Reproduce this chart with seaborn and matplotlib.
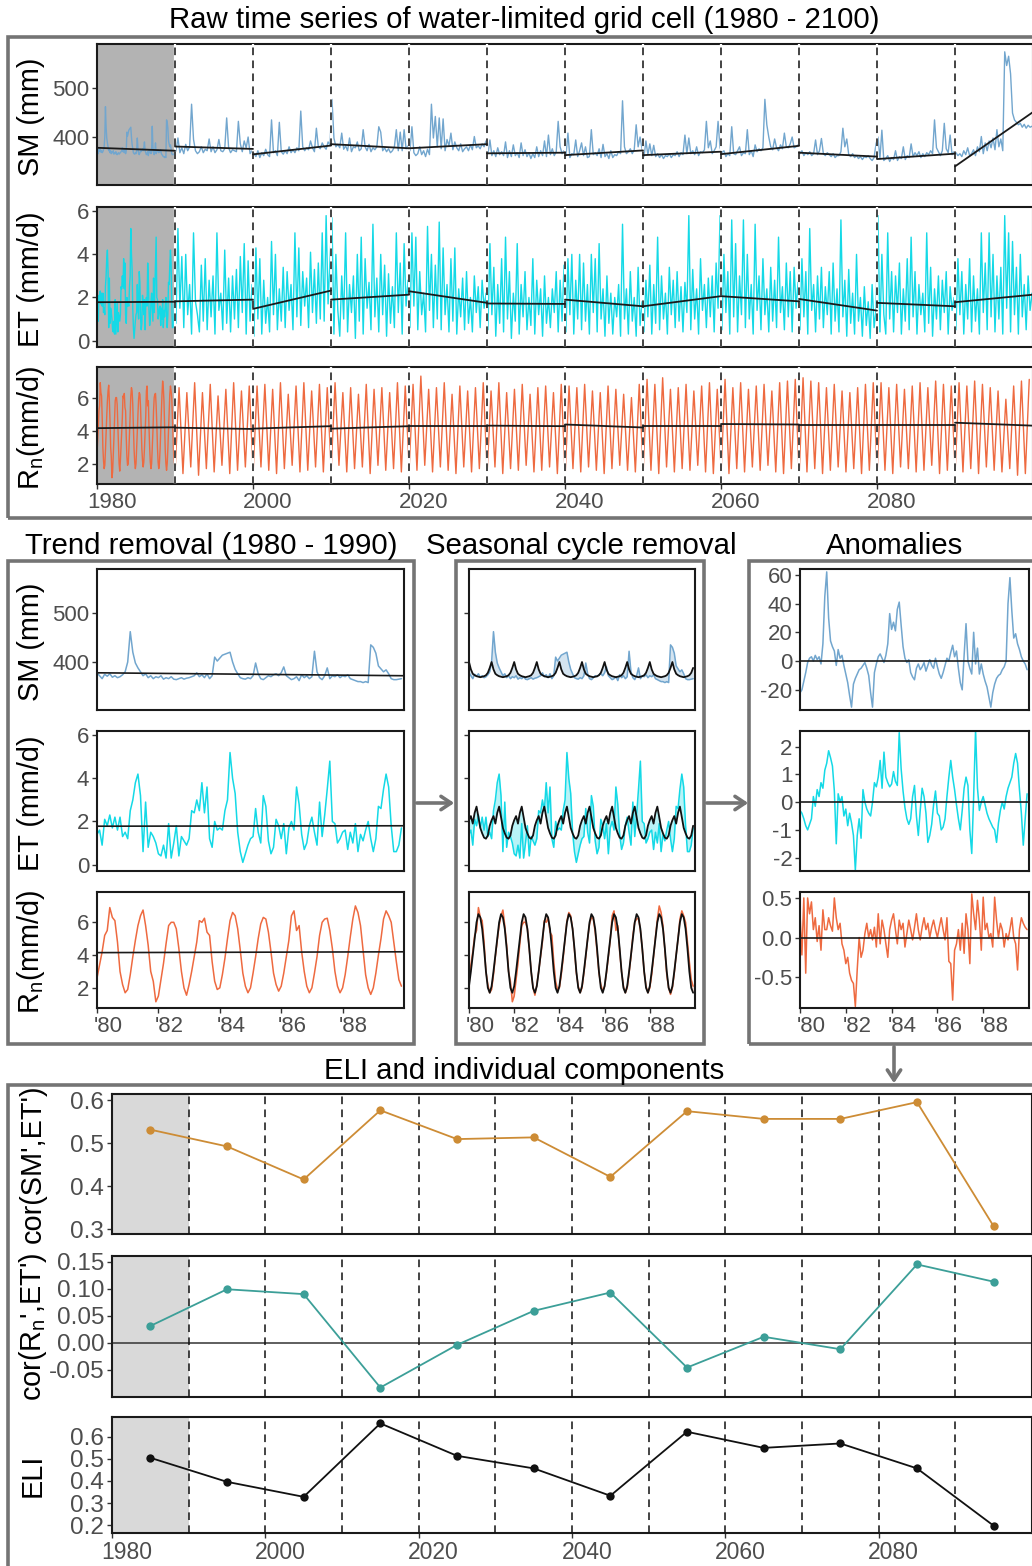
import numpy as np
import pandas as pd
import matplotlib
matplotlib.use("Agg")
import matplotlib.pyplot as plt
from matplotlib.patches import Rectangle, FancyArrowPatch
from matplotlib.transforms import ScaledTranslation
import seaborn as sns

sns.set_style("white")
plt.rcParams['font.family'] = ['Liberation Sans', 'DejaVu Sans']
plt.rcParams['mathtext.default'] = 'regular'
plt.rcParams['axes.unicode_minus'] = False

# ---------------- data ----------------
# 1980-1989, monthly (Jan 1980 .. Dec 1989)
sm_80s = [378, 372, 366, 375, 371, 376, 369, 372, 368, 370, 374, 380,
          400, 462, 420, 398, 388, 380, 372, 376, 368, 372, 366, 370,
          368, 372, 365, 368, 366, 370, 365, 364, 366, 368, 365, 367,
          368, 370, 372, 378, 370, 374, 368, 376, 366, 372, 410, 402,
          408, 414, 416, 418, 420, 400, 385, 376, 368, 366, 365, 368,
          366, 372, 398, 376, 366, 364, 368, 372, 370, 374, 376, 372,
          378, 390, 372, 368, 364, 366, 370, 362, 374, 368, 372, 366,
          370, 422, 380, 368, 364, 372, 388, 366, 372, 370, 374, 368,
          372, 370, 374, 366, 364, 362, 360, 360, 358, 360, 358, 435,
          430, 418, 392, 386, 380, 384, 376, 366, 364, 364, 365, 366]
et_80s = [1.4, 1.6, 0.9, 2.1, 1.8, 2.3, 1.7, 2.2, 1.6, 2.2, 1.3, 1.5,
          1.2, 2.5, 3.0, 3.8, 4.2, 3.2, 0.6, 2.9, 0.8, 1.5, 1.3, 1.0,
          0.5, 0.4, 0.9, 0.3, 1.9, 0.3, 1.0, 1.8, 0.4, 1.3, 1.1, 0.9,
          1.2, 2.5, 2.4, 3.0, 2.5, 3.8, 2.4, 3.6, 1.2, 0.8, 2.0, 1.6,
          1.7, 1.6, 2.5, 3.0, 5.2, 4.0, 3.3, 1.5, 0.6, 0.1, 0.5, 0.9,
          1.2, 1.3, 2.6, 1.5, 1.0, 3.2, 2.7, 1.1, 0.5, 0.8, 2.1, 1.8,
          1.2, 1.9, 0.5, 1.7, 2.0, 1.6, 3.6, 2.8, 1.4, 0.7, 1.0, 1.8,
          2.2, 1.5, 0.9, 2.9, 1.3, 2.3, 3.5, 4.8, 2.0, 1.9, 1.0, 1.2,
          1.5, 1.6, 0.7, 1.5, 1.0, 1.9, 0.6, 1.4, 1.1, 1.6, 2.0, 1.2,
          0.6, 1.2, 2.7, 2.6, 3.5, 4.2, 3.6, 1.8, 0.6, 0.6, 0.9, 1.7]
rn_80s = [2.6, 3.4, 4.2, 5.2, 5.5, 6.9, 6.3, 6.1, 4.8, 3.0, 2.2, 1.7,
          1.9, 2.8, 3.9, 4.9, 5.8, 6.4, 6.75, 5.8, 4.6, 3.0, 2.4, 1.15,
          1.5, 2.5, 3.5, 4.7, 5.8, 6.0, 6.0, 5.6, 4.4, 3.0, 2.0, 1.55,
          2.2, 3.0, 3.9, 4.8, 6.1, 6.0, 6.25, 5.4, 5.2, 3.6, 2.4, 1.9,
          2.0, 2.8, 3.8, 5.0, 6.1, 6.6, 6.4, 5.6, 4.3, 2.9, 2.1, 1.7,
          2.0, 2.9, 3.9, 5.0, 5.9, 6.3, 6.2, 5.4, 4.2, 2.9, 2.2, 1.8,
          2.1, 2.9, 3.9, 4.9, 6.4, 6.7, 5.5, 5.8, 4.2, 3.0, 2.1, 1.7,
          2.0, 2.9, 3.9, 5.2, 6.0, 6.2, 6.25, 5.5, 4.4, 3.0, 2.1, 1.7,
          2.0, 2.8, 3.9, 5.1, 6.2, 7.0, 6.6, 5.8, 4.3, 2.8, 2.0, 1.6,
          2.0, 2.9, 4.0, 5.0, 6.2, 6.7, 6.4, 6.0, 4.8, 3.6, 2.5, 2.1]

# mean seasonal cycle of the 1980s (Jan .. Dec)
sm_clim = [400, 385, 376, 373, 371, 370, 369, 370, 371, 373, 378, 388]
et_clim = [2.06, 2.25, 1.9, 2.4, 2.69, 2.2, 1.7, 1.45, 1.25, 1.2, 1.35, 1.8]
rn_clim = [2.1, 3.0, 4.0, 5.0, 6.0, 6.5, 6.3, 5.6, 4.4, 3.0, 2.0, 1.7]

# anomalies 1980-1989, monthly
sm_anom = [-22, -20, -14, -8, -1, 2, 3, 0, 4, 1, 3, -2,
           12, 45, 62, 30, 14, 10, 7, -3, 8, 2, 4, -3,
           -9, -15, -24, -32, -16, -12, -9, -6, -5, -3, -1, -5,
           -10, -22, -32, -8, -2, 3, 5, 2, -1, 4, 12, 33,
           22, 27, 21, 36, 41, 25, 10, 2, -1, 1, -8, -11,
           -13, -5, -2, -6, -4, -1, -7, -3, 1, -3, -5, 2,
           -4, -9, -12, -8, -3, 2, 0, 6, 11, 3, 7, -5,
           -15, -20, 4, 26, 0, -5, -9, 20, -2, 9, -9, -2,
           -9, -14, -18, -25, -32, -22, -16, -12, -10, -9, -6, -4,
           0, 40, 58, 35, 16, 19, 12, 8, 3, 0, -2, -6]
et_anom = [-0.3, -0.4, -0.6, -0.85, -1.0, -0.8, -0.6, 0.2, -0.15, 0.45, 0.2, 0.7,
           0.5, 1.15, 1.4, 1.85, 1.6, 1.3, 0.4, -1.5, 0.3, 0.0, 0.2, -0.5,
           -0.25, -0.85, -0.4, -0.75, -1.2, -2.45, -1.2, -0.6, -1.3, 0.45, 0.0, -0.25,
           -0.4, -0.5, 0.0, 0.7, 0.55, 0.9, 1.5, 0.5, 1.8, 0.9, 0.7, 0.55,
           0.65, 1.1, 0.75, 0.6, 2.5, 1.2, 0.4, -0.2, -0.6, -0.8, -0.6, 0.2,
           0.6, -0.5, -1.2, -0.3, 0.5, 0.2, -0.4, -1.45, -1.2, -0.8, -0.1, 0.4,
           -0.4, -0.5, -1.0, -0.9, -0.6, 0.2, 0.9, 1.5, 0.9, 0.45, -0.1, -0.6,
           -1.0, -0.3, 0.5, 0.9, 0.6, -1.0, -1.85, 0.2, 2.6, 0.5, -0.3, 0.0,
           0.2, -0.1, -0.4, -0.6, -0.75, -0.9, -1.0, -1.45, -0.75, -0.3, 0.0, -0.25,
           0.2, 0.5, 0.7, 0.9, 1.4, 1.75, 1.4, 0.45, -0.4, -1.55, -0.6, 0.3]
rn_anom = [0.3, -0.22, 0.5, -0.45, 0.5, 0.3, 0.45, 0.1, 0.25, -0.05, 0.15, -0.16,
           0.35, 0.1, 0.1, 0.25, 0.15, 0.08, 0.5, 0.25, 0.1, 0.18, -0.08, -0.16,
           -0.33, -0.25, -0.45, -0.54, -0.58, -0.87, -0.4, 0.0, -0.25, -0.16, 0.05, 0.18,
           0.0, 0.1, -0.03, 0.13, -0.12, 0.3, -0.08, 0.22, 0.1, -0.08, -0.25, 0.1,
           0.22, 0.3, 0.1, -0.08, 0.22, 0.1, 0.18, -0.12, 0.05, 0.22, 0.1, -0.03,
           0.13, 0.3, 0.1, -0.03, 0.13, 0.25, 0.1, 0.18, 0.0, 0.13, 0.22, 0.1,
           0.0, 0.13, 0.25, 0.1, -0.03, 0.25, -0.3, -0.33, -0.79, -0.16, -0.08, 0.1,
           -0.16, 0.18, -0.2, 0.3, 0.1, -0.33, 0.55, 0.3, 0.1, 0.47, 0.22, -0.16,
           0.51, 0.1, 0.18, 0.0, 0.05, -0.12, 0.51, 0.22, 0.0, 0.18, 0.1, -0.12,
           0.05, -0.03, 0.1, 0.25, 0.0, -0.08, -0.41, 0.1, 0.25, 0.18, 0.13, 0.1]

# 1990-2099: soil moisture and ET quarterly, one line per decade
sm_q = [372, 398, 368, 378, 366, 385, 372, 380, 467, 395, 372, 366, 370, 380, 368, 375, 372, 396, 370, 380, 368, 374, 395, 372, 370, 376, 439, 378, 368, 374, 372, 370, 432, 386, 370, 392, 378, 400, 366, 372,
        366, 360, 372, 358, 368, 362, 375, 364, 360, 435, 368, 372, 362, 430, 370, 365, 372, 366, 380, 368, 374, 368, 378, 372, 453, 380, 372, 378, 374, 392, 378, 370, 418, 380, 376, 388, 380, 375, 390, 384,
        477, 398, 380, 385, 378, 408, 375, 382, 372, 398, 370, 380, 378, 390, 372, 376, 415, 380, 372, 385, 370, 378, 374, 380, 421, 410, 372, 378, 370, 376, 368, 372, 380, 415, 372, 410, 372, 415, 376, 382,
        372, 421, 368, 362, 366, 380, 364, 372, 360, 375, 364, 467, 398, 442, 380, 439, 376, 437, 372, 395, 382, 408, 374, 390, 378, 372, 386, 370, 376, 380, 372, 384, 374, 401, 378, 382, 376, 386, 380, 392,
        366, 394, 362, 372, 360, 378, 364, 370, 362, 390, 358, 372, 360, 384, 362, 368, 358, 388, 362, 374, 360, 368, 356, 366, 358, 380, 360, 372, 362, 392, 360, 404, 364, 376, 362, 370, 432, 380, 366, 372,
        362, 408, 358, 366, 364, 394, 360, 372, 388, 362, 380, 358, 360, 415, 364, 368, 362, 376, 358, 385, 360, 366, 356, 372, 358, 364, 362, 370, 366, 474, 380, 366, 370, 376, 366, 374, 425, 380, 400, 376,
        360, 392, 364, 386, 362, 383, 360, 366, 358, 364, 356, 362, 360, 366, 358, 364, 362, 370, 360, 368, 364, 404, 366, 398, 366, 372, 364, 380, 362, 370, 368, 374, 432, 378, 392, 366, 372, 380, 432, 378,
        368, 372, 360, 366, 362, 421, 366, 364, 372, 380, 362, 368, 366, 415, 364, 372, 360, 384, 370, 376, 372, 378, 477, 425, 400, 380, 374, 396, 378, 372, 384, 376, 408, 380, 378, 386, 400, 378, 380, 384,
        366, 372, 362, 368, 364, 370, 362, 366, 394, 364, 372, 397, 366, 362, 368, 364, 360, 366, 358, 362, 362, 370, 418, 380, 396, 364, 360, 366, 358, 362, 356, 360, 354, 360, 358, 362, 356, 352, 358, 386,
        400, 356, 414, 352, 356, 362, 350, 358, 354, 372, 352, 360, 356, 380, 354, 362, 358, 386, 360, 368, 362, 370, 358, 366, 360, 368, 364, 372, 366, 435, 378, 370, 362, 372, 428, 376, 368, 404, 364, 370,
        368, 362, 366, 360, 372, 364, 378, 362, 366, 374, 362, 380, 370, 401, 366, 388, 372, 392, 378, 398, 374, 415, 380, 396, 372, 574, 546, 565, 529, 449, 435, 430, 425, 428, 420, 426, 418, 424, 420, 422]
et_q = [0.8, 5.2, 1.5, 3.9, 0.6, 4.0, 1.2, 2.6, 0.3, 5.0, 1.8, 1.2, 0.4, 3.5, 0.9, 3.8, 0.5, 2.8, 1.1, 3.0, 0.3, 5.0, 1.4, 2.2, 0.5, 4.2, 0.8, 2.9, 0.4, 3.0, 1.0, 3.3, 0.6, 3.9, 1.3, 4.5, 0.3, 3.7, 0.9, 2.6,
        0.2, 4.3, 1.0, 3.8, 0.3, 2.8, 0.8, 2.0, 0.4, 4.6, 1.2, 4.0, 0.5, 2.4, 0.9, 3.4, 0.6, 3.2, 1.4, 2.6, 0.5, 5.0, 1.1, 4.3, 0.7, 3.2, 1.6, 2.9, 0.6, 4.1, 1.3, 3.3, 0.8, 3.6, 1.0, 5.0, 0.9, 5.8, 1.7, 3.8,
        5.7, 0.3, 4.0, 1.4, 0.2, 3.0, 1.0, 5.0, 0.4, 2.6, 1.3, 3.0, 0.1, 4.0, 0.9, 4.8, 0.3, 3.8, 1.5, 2.7, 0.5, 5.4, 1.1, 2.9, 0.4, 4.0, 1.2, 3.5, 0.2, 3.1, 0.8, 2.5, 0.6, 5.0, 1.3, 3.6, 0.3, 4.5, 1.6, 2.8,
        0.6, 5.0, 1.6, 4.8, 0.5, 3.2, 1.2, 2.2, 0.4, 5.3, 1.4, 4.0, 0.6, 3.5, 1.0, 5.5, 0.5, 4.3, 1.2, 2.6, 0.4, 3.8, 0.9, 4.3, 0.3, 2.4, 1.1, 2.9, 0.5, 3.2, 0.8, 2.0, 0.4, 3.0, 1.3, 2.5, 0.6, 2.8, 1.5, 2.2,
        0.5, 4.5, 1.2, 3.4, 0.2, 2.6, 0.8, 3.8, 0.4, 4.8, 1.0, 3.2, 0.1, 2.2, 0.9, 4.5, 0.3, 2.6, 1.1, 3.2, 0.5, 2.0, 0.7, 3.8, 0.3, 2.8, 1.2, 2.4, 0.2, 3.0, 0.8, 2.0, 0.6, 2.4, 1.3, 3.2, 0.4, 2.8, 0.9, 3.5,
        0.4, 3.8, 1.2, 4.0, 0.3, 2.8, 1.0, 4.0, 0.5, 3.6, 0.9, 2.6, 0.3, 4.0, 1.3, 3.8, 0.4, 4.5, 1.0, 2.4, 0.2, 3.0, 0.8, 2.2, 0.3, 2.0, 1.1, 2.6, 0.2, 5.4, 1.0, 2.4, 0.3, 3.2, 0.9, 2.0, 0.2, 3.4, 0.7, 1.8,
        0.4, 2.8, 1.1, 3.5, 0.3, 2.6, 0.8, 4.8, 0.5, 3.0, 1.0, 2.2, 0.3, 3.4, 1.2, 2.8, 0.6, 3.2, 0.9, 2.5, 0.4, 2.7, 1.3, 5.8, 0.5, 3.3, 1.0, 2.4, 0.3, 3.8, 1.4, 2.6, 0.6, 2.9, 1.1, 3.0, 0.4, 3.6, 1.5, 5.8,
        0.5, 4.0, 1.3, 3.2, 0.3, 5.6, 1.1, 4.5, 0.4, 3.0, 1.2, 5.6, 0.6, 4.0, 1.0, 2.6, 0.3, 5.4, 1.4, 3.0, 0.5, 3.8, 1.2, 2.4, 0.4, 3.4, 0.9, 2.8, 0.6, 4.8, 1.3, 2.5, 0.5, 3.6, 1.1, 3.2, 0.4, 3.4, 1.5, 2.7,
        0.5, 3.8, 1.1, 3.2, 0.3, 5.2, 1.4, 2.6, 0.4, 3.0, 1.0, 3.4, 0.6, 2.5, 1.2, 3.2, 0.3, 3.6, 0.9, 2.4, 0.4, 5.6, 1.1, 2.8, 0.2, 3.3, 0.8, 2.2, 0.3, 4.0, 0.9, 2.0, 0.2, 2.5, 0.7, 1.8, 0.1, 2.6, 0.6, 1.4,
        5.8, 0.4, 4.0, 1.2, 0.3, 5.0, 1.0, 3.2, 0.4, 3.0, 1.3, 3.6, 0.3, 2.4, 0.9, 3.8, 0.5, 4.8, 1.1, 3.2, 0.3, 2.6, 1.2, 2.2, 0.4, 5.0, 0.8, 3.4, 0.2, 2.4, 1.0, 3.0, 0.5, 2.8, 1.3, 3.2, 0.3, 2.5, 1.4, 2.0,
        0.5, 3.8, 1.2, 3.2, 0.3, 2.6, 1.0, 3.8, 0.4, 3.0, 0.9, 2.4, 0.3, 5.0, 1.3, 3.6, 0.5, 5.0, 1.1, 4.0, 0.4, 3.0, 1.0, 3.4, 0.3, 5.8, 1.5, 5.0, 0.4, 4.6, 1.2, 3.4, 0.3, 4.0, 1.1, 2.6, 0.5, 3.0, 1.4, 2.2]
# 1990-2099: net radiation, yearly winter low and summer high
rn_low = [1.6, 1.4, 1.8, 1.3, 1.7, 1.5, 1.9, 1.4, 1.6, 1.8,
          1.5, 1.8, 1.6, 1.4, 1.7, 1.9, 1.5, 1.6, 1.8, 1.5,
          1.6, 1.9, 1.5, 1.7, 1.8, 1.4, 1.9, 1.6, 1.7, 1.5,
          1.7, 1.6, 1.9, 1.5, 1.8, 1.6, 1.4, 1.8, 1.5, 1.7,
          1.5, 1.8, 1.4, 1.7, 1.6, 1.9, 1.5, 1.6, 1.8, 1.4,
          1.3, 1.7, 1.5, 1.8, 1.6, 1.4, 1.7, 1.9, 1.6, 1.5,
          1.5, 1.6, 1.4, 1.8, 1.5, 1.7, 1.6, 1.9, 1.5, 1.4,
          1.6, 1.4, 1.7, 1.5, 1.8, 1.6, 1.9, 1.5, 1.4, 1.7,
          1.3, 1.5, 1.7, 1.4, 1.6, 1.8, 1.5, 1.7, 1.4, 1.6,
          1.5, 1.6, 1.4, 1.8, 1.7, 1.5, 1.6, 1.9, 1.4, 1.6,
          1.6, 1.5, 1.7, 1.4, 1.8, 1.6, 1.5, 1.7, 1.3, 1.4]
rn_high = [6.6, 6.3, 6.9, 6.3, 6.8, 6.1, 6.5, 6.9, 6.4, 6.7,
           6.7, 6.8, 6.5, 6.9, 6.2, 6.7, 6.9, 6.4, 6.8, 6.6,
           6.9, 6.3, 6.6, 6.2, 6.8, 6.5, 6.6, 6.3, 6.9, 6.7,
           6.8, 7.3, 6.5, 6.6, 6.9, 6.2, 6.7, 6.4, 6.6, 6.9,
           6.4, 6.9, 6.3, 6.5, 6.8, 6.2, 6.6, 6.7, 6.3, 6.8,
           6.7, 6.6, 6.8, 6.4, 6.3, 6.7, 6.5, 6.2, 6.0, 6.8,
           7.1, 6.8, 7.2, 6.5, 6.6, 6.8, 6.4, 6.7, 6.9, 6.5,
           7.1, 6.6, 6.9, 6.5, 6.7, 6.8, 6.4, 6.9, 7.0, 7.1,
           7.2, 7.0, 6.9, 6.6, 6.8, 6.4, 6.3, 6.6, 6.8, 6.9,
           6.9, 6.6, 6.8, 6.5, 6.7, 6.9, 6.6, 7.0, 6.8, 6.7,
           6.9, 6.7, 7.0, 6.8, 6.6, 6.4, 5.9, 6.7, 7.0, 7.1]

# decadal linear trends: value at start and end of each decade 1980s..2090s
decades = list(range(1980, 2100, 10))
sm_tr_start = [378, 380.6, 364.6, 385.4, 377, 366.7, 363, 363, 365, 368, 355, 340]
sm_tr_end = [372, 375.7, 382.6, 377, 385.4, 368, 372.6, 370, 382, 360, 366, 451]
et_tr_start = [1.78, 1.82, 1.47, 1.90, 2.29, 1.72, 1.90, 1.59, 2.06, 1.93, 1.75, 1.78]
et_tr_end = [1.80, 1.90, 2.32, 2.13, 1.75, 1.70, 1.59, 2.06, 1.82, 1.39, 1.59, 2.13]
rn_tr_start = [4.15, 4.18, 4.12, 4.12, 4.30, 4.30, 4.37, 4.30, 4.40, 4.35, 4.33, 4.48]
rn_tr_end = [4.20, 4.10, 4.27, 4.27, 4.30, 4.27, 4.19, 4.30, 4.37, 4.35, 4.33, 4.30]

# decadal correlations and ELI (plotted at decade centres)
mid_years = list(range(1985, 2100, 10))
cor_sm_et = [0.532, 0.493, 0.416, 0.577, 0.510, 0.514, 0.422, 0.575, 0.557, 0.557, 0.596, 0.307]
cor_rn_et = [0.031, 0.099, 0.090, -0.083, -0.004, 0.059, 0.093, -0.046, 0.011, -0.012, 0.145, 0.113]
eli = [0.505, 0.396, 0.328, 0.661, 0.514, 0.457, 0.333, 0.623, 0.550, 0.570, 0.457, 0.197]

# ---------------- styling ----------------
C_SM, C_ET, C_RN = '#72A6CE', '#14D9E6', '#EE6A40'
C_C1, C_C2 = '#CD8C35', '#3C9F98'
GREY = '#747474'
TITLE_FS, YLAB_FS = 21.2, 20.8
W, H = 1032, 1566
fig = plt.figure(figsize=(W / 100, H / 100), dpi=100)


def add_ax(x0, y0, x1, y1):
    return fig.add_axes([x0 / W, 1 - y1 / H, (x1 - x0) / W, (y1 - y0) / H])


def frame(x0, y0, x1, y1):
    fig.add_artist(Rectangle((x0 / W, 1 - y1 / H), (x1 - x0) / W, (y1 - y0) / H,
                             transform=fig.transFigure, fill=False, ec=GREY, lw=2.6))


def arrow(x0, y0, x1, y1):
    fig.add_artist(FancyArrowPatch((x0 / W, 1 - y0 / H), (x1 / W, 1 - y1 / H),
                                   transform=fig.transFigure, color=GREY, lw=2.6,
                                   arrowstyle='->,head_length=0.45,head_width=0.3',
                                   mutation_scale=16))


def ftext(x, y, s, size=TITLE_FS, rot=0, color='black'):
    fig.text(x / W, 1 - y / H, s, ha='center', va='center', fontsize=size,
             rotation=rot, color=color)


def style(ax, xlim, ylim, yticks, ylabels=None, fs=16):
    ax.set_xlim(xlim)
    ax.set_ylim(ylim)
    ax.set_yticks(yticks)
    if ylabels is not None:
        ax.set_yticklabels(ylabels)
    for s in ax.spines.values():
        s.set_color('#1a1a1a')
        s.set_linewidth(1.5)
    ax.tick_params(axis='y', left=True, length=3.5, width=1, color='#333333',
                   labelcolor='#4D4D4D', labelsize=fs, pad=2)
    ax.tick_params(axis='x', bottom=False, labelbottom=False)
    ax.set_xlabel('')
    ax.set_ylabel('')


def xaxis(ax, ticks, labels, fs, shift):
    ax.set_xticks(ticks)
    ax.set_xticklabels(labels)
    ax.tick_params(axis='x', bottom=True, labelbottom=True, length=3.5, width=1,
                   color='#333333', labelcolor='#4D4D4D', labelsize=fs, pad=2)
    off = ScaledTranslation(shift / 100, 0, fig.dpi_scale_trans)
    for lab in ax.get_xticklabels():
        lab.set_transform(lab.get_transform() + off)


def dashed(ax, white=False):
    for d in decades[1:]:
        if white:
            ax.axvline(d, color='white', lw=1.6, zorder=3)
        ax.axvline(d, color='#111111', lw=1.1, ls=(0, (5, 3.5)), zorder=3.5)


t_m = 1980 + np.arange(120) / 12
t_q = 1990 + np.arange(len(sm_q)) / 4 + 0.125
yrs = np.arange(1990, 2100)
t_rn = np.ravel(np.column_stack([yrs + 0.02, yrs + 0.52]))
rn_pairs = np.ravel(np.column_stack([rn_low, rn_high]))

top_sm = pd.DataFrame({'t': np.r_[t_m, t_q], 'v': np.r_[sm_80s, sm_q]})
top_et = pd.DataFrame({'t': np.r_[t_m, t_q], 'v': np.r_[et_80s, et_q]})
top_rn = pd.DataFrame({'t': np.r_[t_m, t_rn], 'v': np.r_[rn_80s, rn_pairs]})

rows = [
    dict(df=top_sm, m=sm_80s, clim=sm_clim, anom=sm_anom, c=C_SM, ylim=(302, 590), yt=[400, 500],
         tr=(sm_tr_start, sm_tr_end), aylim=(-34, 64), ayt=[-20, 0, 20, 40, 60], ayl=None,
         lab='SM (mm)'),
    dict(df=top_et, m=et_80s, clim=et_clim, anom=et_anom, c=C_ET, ylim=(-0.3, 6.2), yt=[0, 2, 4, 6],
         tr=(et_tr_start, et_tr_end), aylim=(-2.48, 2.56), ayt=[-2, -1, 0, 1, 2], ayl=None,
         lab='ET (mm/d)'),
    dict(df=top_rn, m=rn_80s, clim=rn_clim, anom=rn_anom, c=C_RN, ylim=(0.77, 7.85), yt=[2, 4, 6],
         tr=(rn_tr_start, rn_tr_end), aylim=(-0.89, 0.575), ayt=[-0.5, 0, 0.5],
         ayl=['-0.5', '0.0', '0.5'], lab='R$_n$(mm/d)'),
]

# ---------------- top: raw series 1980-2100 ----------------
top_y = [(44, 185), (207, 347), (367, 484)]
for r, (y0, y1) in zip(rows, top_y):
    ax = add_ax(97, y0, 1033, y1)
    ax.axvspan(1980, 1990, color='#B3B3B3', lw=0, zorder=0)
    sns.lineplot(data=r['df'], x='t', y='v', ax=ax, color=r['c'], lw=1.0,
                 estimator=None, sort=False, zorder=2)
    for d, a, b in zip(decades, *r['tr']):
        ax.plot([d, d + 10], [a, b], color='#1a1a1a', lw=1.3, zorder=4)
    dashed(ax, white=True)
    style(ax, (1980, 2100), r['ylim'], r['yt'])
    ftext(31, (y0 + y1) / 2 + 2, r['lab'], size=YLAB_FS, rot=90)
xaxis(ax, [1980, 2000, 2020, 2040, 2060, 2080], ['1980', '2000', '2020', '2040', '2060', '2080'], 16, 15)

# ---------------- middle: decomposition of the 1980s ----------------
mid_y = [(569, 710), (731, 871), (892, 1008)]
ticks80 = [1980, 1982, 1984, 1986, 1988]
labs80 = ["'80", "'82", "'84", "'86", "'88"]
for r, (y0, y1) in zip(rows, mid_y):
    # trend removal
    ax = add_ax(97, y0, 404, y1)
    sns.lineplot(x=t_m, y=r['m'], ax=ax, color=r['c'], lw=1.1, estimator=None, sort=False)
    ax.plot([1980, 1990], [r['tr'][0][0], r['tr'][1][0]], color='#1a1a1a', lw=1.2)
    style(ax, (1980, 1990), r['ylim'], r['yt'])
    ftext(31, (y0 + y1) / 2 + 2, r['lab'], size=YLAB_FS, rot=90)
    ax1 = ax
    # seasonal cycle
    ax = add_ax(469, y0, 695, y1)
    clim10 = np.tile(r['clim'], 10)
    ax.fill_between(t_m, r['m'], clim10, color=r['c'], alpha=0.3, lw=0)
    sns.lineplot(x=t_m, y=r['m'], ax=ax, color=r['c'], lw=1.1, estimator=None, sort=False)
    sns.lineplot(x=t_m, y=clim10, ax=ax, color='#111111', lw=1.3, estimator=None, sort=False)
    style(ax, (1980, 1990), r['ylim'], r['yt'], ylabels=[])
    ax2 = ax
    # anomalies
    ax = add_ax(800, y0, 1029, y1)
    sns.lineplot(x=t_m, y=r['anom'], ax=ax, color=r['c'], lw=1.1, estimator=None, sort=False)
    ax.axhline(0, color='#1a1a1a', lw=1.2)
    style(ax, (1980, 1990), r['aylim'], r['ayt'], ylabels=r['ayl'])
    ax3 = ax
for a in (ax1, ax2, ax3):
    xaxis(a, ticks80, labs80, 16, 11)

# ---------------- bottom: correlations and ELI ----------------
bot = [
    (cor_sm_et, C_C1, (0.289, 0.615), [0.3, 0.4, 0.5, 0.6], ['0.3', '0.4', '0.5', '0.6'],
     "cor(SM',ET')", (1094, 1234)),
    (cor_rn_et, C_C2, (-0.1005, 0.1606), [-0.05, 0, 0.05, 0.10, 0.15],
     ['-0.05', '0.00', '0.05', '0.10', '0.15'], "cor(R$_n$',ET')", (1256, 1397)),
    (eli, '#111111', (0.164, 0.69), [0.2, 0.3, 0.4, 0.5, 0.6], ['0.2', '0.3', '0.4', '0.5', '0.6'],
     'ELI', (1417, 1533)),
]
for vals, c, ylim, yt, yl, lab, (y0, y1) in bot:
    ax = add_ax(112, y0, 1032, y1)
    ax.axvspan(1980, 1990, color='#D9D9D9', lw=0, zorder=0)
    dashed(ax)
    if lab.startswith('cor(R'):
        ax.axhline(0, color='#333333', lw=1.1, zorder=2)
    sns.lineplot(x=mid_years, y=vals, ax=ax, color=c, lw=1.3, marker='o', markersize=6,
                 markeredgewidth=0, estimator=None, sort=False, zorder=5)
    style(ax, (1980, 2100), ylim, yt, ylabels=yl, fs=17.5)
    ftext(33, (y0 + y1) / 2, lab, size=YLAB_FS, rot=90)
xaxis(ax, [1980, 2000, 2020, 2040, 2060, 2080], ['1980', '2000', '2020', '2040', '2060', '2080'], 16.5, 15)

# ---------------- frames, arrows, titles ----------------
frame(8, 37, 1045, 518)
frame(8, 561, 414, 1044)
frame(456, 561, 704, 1044)
frame(749, 561, 1045, 1044)
frame(8, 1085, 1045, 1590)
arrow(414, 803, 457, 803)
arrow(704, 803, 751, 803)
arrow(894, 1044, 894, 1086)

ftext(524, 20, 'Raw time series of water-limited grid cell (1980 - 2100)')
ftext(211, 546, 'Trend removal (1980 - 1990)')
ftext(581, 546, 'Seasonal cycle removal')
ftext(895, 546, 'Anomalies')
ftext(524, 1071, 'ELI and individual components')

fig.savefig('out.png', dpi=100)
